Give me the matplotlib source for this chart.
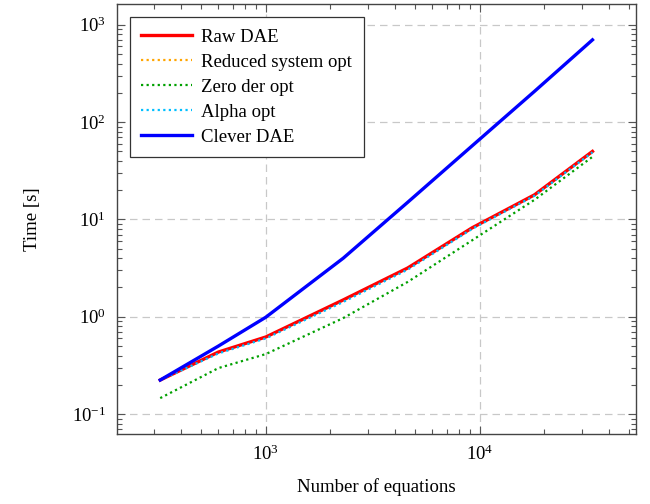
import numpy as np
import matplotlib
matplotlib.use("Agg")
import matplotlib.pyplot as plt
from matplotlib.ticker import LogLocator, NullFormatter

plt.rcParams['font.family'] = ['Liberation Serif', 'DejaVu Serif']
plt.rcParams['mathtext.fontset'] = 'stix'

# número de ecuaciones del sistema
n_eq = [321, 600, 1000, 2300, 4600, 9200, 18000, 33600]

# tiempos en segundos
raw_dae = [0.224, 0.434, 0.62, 1.49, 3.17, 8.2, 17.9, 50.0]
reduced_opt = [0.225, 0.43, 0.62, 1.48, 3.15, 8.2, 17.8, 50.0]
zero_der_opt = [0.146, 0.297, 0.414, 0.97, 2.28, 6.1, 15.9, 44.0]
alpha_opt = [0.224, 0.42, 0.60, 1.42, 3.05, 8.0, 17.5, 49.0]
clever_dae = [0.224, 0.50, 0.99, 4.0, 15.0, 57.0, 207.0, 700.0]

labels = ['Raw DAE', 'Reduced system opt', 'Zero der opt', 'Alpha opt', 'Clever DAE']

fs = 13.5

fig = plt.figure(figsize=(6.5, 5.04), dpi=100)
ax = fig.add_axes([0.18, 0.139, 0.798, 0.853])

ax.plot(n_eq, raw_dae, color='#ff0000', lw=2.4, label=labels[0], zorder=3)
ax.plot(n_eq, reduced_opt, color='#ffa500', lw=1.6, ls=(0, (1, 1.5)), label=labels[1], zorder=2)
ax.plot(n_eq, zero_der_opt, color='#00a000', lw=1.6, ls=(0, (1, 1.5)), label=labels[2], zorder=3)
ax.plot(n_eq, alpha_opt, color='#00bfff', lw=1.6, ls=(0, (1, 1.5)), label=labels[3], zorder=4)
ax.plot(n_eq, clever_dae, color='#0000ff', lw=2.4, label=labels[4], zorder=5)

ax.set_xscale('log')
ax.set_yscale('log')

# limites ampliados un 10% como pgfplots
lx = np.log10([min(n_eq), max(n_eq)])
dx = 0.1 * (lx[1] - lx[0])
ax.set_xlim(10 ** (lx[0] - dx), 10 ** (lx[1] + dx))
ly = np.log10([min(zero_der_opt), max(clever_dae)])
dy = 0.1 * (ly[1] - ly[0])
ax.set_ylim(10 ** (ly[0] - dy), 10 ** (ly[1] + dy))

ax.xaxis.set_major_locator(LogLocator(base=10, numticks=10))
ax.yaxis.set_major_locator(LogLocator(base=10, numticks=10))
ax.xaxis.set_minor_locator(LogLocator(base=10, subs=np.arange(2, 10), numticks=10))
ax.yaxis.set_minor_locator(LogLocator(base=10, subs=np.arange(2, 10), numticks=10))
ax.xaxis.set_minor_formatter(NullFormatter())
ax.yaxis.set_minor_formatter(NullFormatter())

ax.tick_params(which='both', direction='in', top=True, right=True, colors='#555555',
               labelcolor='black', labelsize=fs)
ax.tick_params(which='major', length=6, width=0.8, pad=8)
ax.tick_params(which='minor', length=3.5, width=0.8)

ax.grid(True, which='major', ls=(0, (6, 4)), color='#c8c8c8', lw=0.9)

for s in ax.spines.values():
    s.set_color('#444444')
    s.set_linewidth(1.0)

ax.set_xlabel('Number of equations', fontsize=fs, labelpad=10)
ax.set_ylabel('Time [s]', fontsize=fs, labelpad=22)

leg = ax.legend(loc='upper left', fontsize=fs, frameon=True, fancybox=False,
                edgecolor='#333333', framealpha=1, handlelength=2.7,
                borderaxespad=0.7, labelspacing=0.42, handletextpad=0.5,
                borderpad=0.6)
leg.get_frame().set_linewidth(0.9)

fig.savefig('out.png', dpi=100)
